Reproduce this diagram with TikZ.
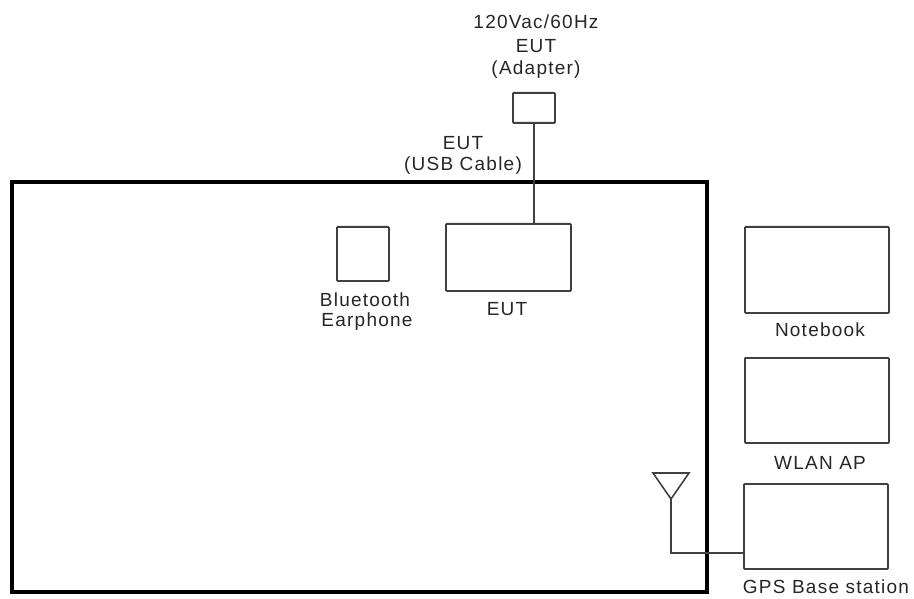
\documentclass[tikz,border=0pt]{standalone}
\usepackage{fontspec}
\setmainfont{Liberation Sans}[LetterSpace=6.5]
\begin{document}
\begin{tikzpicture}[x=1pt,y=-1pt,
  box/.style={draw=black!75,line width=1.8pt,rounded corners=0.8pt,inner sep=0pt,anchor=north west},
  lbl/.style={inner sep=0pt,font=\fontsize{19}{23}\selectfont,align=center,text=black!85},
  wire/.style={draw=black!75,line width=1.6pt}]
\useasboundingbox (0,0) rectangle (914,599);
\draw[line width=3.2pt,black] (12,182) rectangle (707,592);
\node[box,minimum width=42pt,minimum height=30pt] (adp) at (512,92) {};
\node[box,minimum width=125pt,minimum height=67pt] (eut) at (445,223) {};
\node[box,minimum width=52pt,minimum height=54pt] (bt) at (336,226) {};
\node[box,minimum width=144pt,minimum height=86pt] (nb) at (744,226) {};
\node[box,minimum width=144pt,minimum height=85pt] (ap) at (744,357) {};
\node[box,minimum width=144pt,minimum height=85pt] (gps) at (743,483) {};
\node[lbl] (t1) at (536,22) {120Vac/60Hz};
\node[lbl] (t2) at (536,46) {EUT};
\node[lbl] (t3) at (536,70) {(Adapter)};
\node[lbl] (u1) at (463,143) {EUT};
\node[lbl] (u2) at (463,166) {(USB Cable)};
\node[lbl] (b1) at (365,300) {Bluetooth};
\node[lbl] (b2) at (367,322) {Earphone};
\node[lbl] (e1) at (507,309) {EUT};
\node[lbl] (n1) at (820,330) {Notebook};
\node[lbl] (w1) at (820,463) {WLAN AP};
\node[lbl] (g1) at (826,587) {GPS Base station};
\draw[wire] (adp.south) -- (adp.south |- eut.north);
\coordinate (apex) at (671,499);
\coordinate (tl) at (653,473);
\coordinate (tr) at (689,473);
\coordinate (corner) at (671,553);
\draw[wire,line join=miter] (tl) -- (tr) -- (apex) -- cycle;
\draw[wire] (apex) -- (corner) -- (corner -| gps.west);
\end{tikzpicture}
\end{document}
